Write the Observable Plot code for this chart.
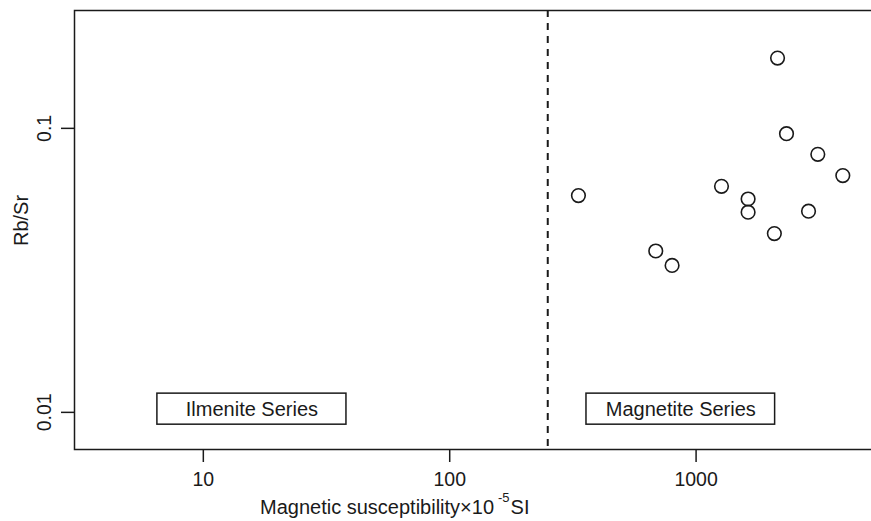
<!DOCTYPE html>
<html>
<head>
<meta charset="utf-8">
<script src="https://cdn.jsdelivr.net/npm/d3@7"></script>
<script src="https://cdn.jsdelivr.net/npm/@observablehq/plot@0.6"></script>
<style>
  html, body { margin: 0; padding: 0; background: #fff; overflow: hidden; }
  #chart { width: 871px; height: 521px; overflow: hidden; }
</style>
</head>
<body>
<div id="chart"></div>
<script>
// Magnetic susceptibility (×10^-5 SI) and Rb/Sr ratio of the samples
const susceptibility = [2141, 2328, 3119, 3940, 1268, 1626, 1626, 2860, 2078, 333, 686, 799];
const rbsr = [0.1768, 0.0958, 0.0810, 0.0682, 0.0625, 0.0564, 0.0507, 0.0511, 0.0426, 0.0580, 0.0370, 0.0329];

// Ilmenite / magnetite series boundary
const boundary = [250];

// Field label boxes (data coordinates)
const seriesNames = ["Ilmenite Series", "Magnetite Series"];
const boxX1 = [6.51, 359];
const boxX2 = [38.1, 2093];
const boxY1 = [0.00905, 0.00905];
const boxY2 = [0.01164, 0.01164];

// Axes
const xTicks = [10, 100, 1000];
const yTicks = [0.01, 0.1];
const xDomain = [3, 5500];
const yDomain = [0.0074, 0.26];

const points = susceptibility.map((x, i) => ({x, y: rbsr[i]}));
const boxes = seriesNames.map((name, i) => ({
  name, x1: boxX1[i], x2: boxX2[i], y1: boxY1[i], y2: boxY2[i],
  xc: Math.sqrt(boxX1[i] * boxX2[i]), yc: Math.sqrt(boxY1[i] * boxY2[i])
}));

const ink = "#1a1a1a";
const font = "'Liberation Sans', Arial, Helvetica, sans-serif";

const plot = Plot.plot({
  width: 880,
  height: 521,
  marginLeft: 74,
  marginRight: 2,
  marginTop: 10,
  marginBottom: 72,
  style: {maxWidth: "none", fontFamily: font, background: "#fff", color: ink},
  x: {type: "log", domain: xDomain},
  y: {type: "log", domain: yDomain},
  marks: [
    Plot.axisX({ticks: xTicks, tickFormat: d => String(d), tickSize: 13, tickPadding: 10,
                fontSize: 19.5, strokeWidth: 1.5, stroke: ink, fill: ink, label: null}),
    Plot.axisY({ticks: yTicks, tickFormat: () => "", tickSize: 13, strokeWidth: 1.5, stroke: ink, label: null}),
    Plot.text(yTicks, {y: d => d, text: d => String(d), frameAnchor: "left", dx: -30,
                       rotate: -90, textAnchor: "middle", lineAnchor: "middle", fontSize: 19.5, fill: ink}),
    Plot.text(["Rb/Sr"], {text: d => d, frameAnchor: "left", dx: -47, dy: -9.5, rotate: -90,
                          textAnchor: "middle", lineAnchor: "bottom", fontSize: 20, fill: ink}),
    Plot.ruleX(boundary, {x: d => d, stroke: ink, strokeWidth: 2, strokeDasharray: "7,6"}),
    Plot.rect(boxes, {x1: "x1", x2: "x2", y1: "y1", y2: "y2", fill: "#fff", stroke: ink, strokeWidth: 1.5}),
    Plot.text(boxes, {x: "xc", y: "yc", text: "name", fontSize: 20, fill: ink, lineAnchor: "middle"}),
    Plot.dot(points, {x: "x", y: "y", r: 6.8, stroke: ink, strokeWidth: 1.6, fill: "none"}),
    Plot.frame({stroke: ink, strokeWidth: 1.5})
  ]
});

// x-axis title with superscript exponent
const svg = d3.select(plot);
const title = svg.append("text")
  .attr("x", 260).attr("y", 514)
  .attr("text-anchor", "start")
  .attr("fill", ink)
  .attr("font-family", font)
  .attr("font-size", 20);
title.append("tspan").text("Magnetic susceptibility×10");
title.append("tspan").attr("dx", 4).attr("dy", -12).attr("font-size", 13).text("-5");
title.append("tspan").attr("dx", 1).attr("dy", 12).text("SI");

document.getElementById("chart").appendChild(plot);
</script>
</body>
</html>
